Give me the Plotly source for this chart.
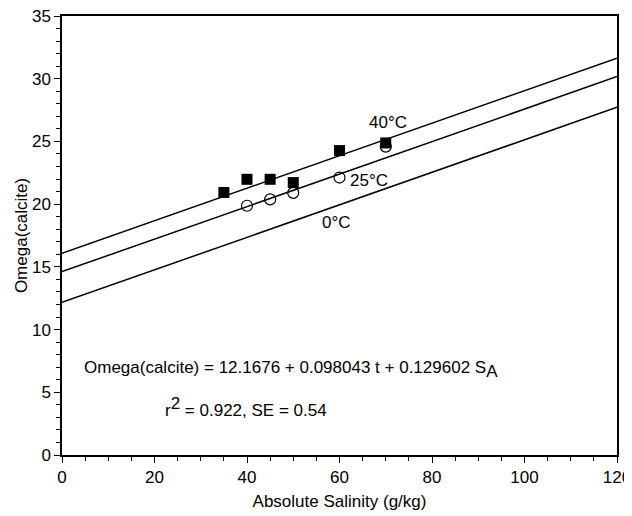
import plotly.graph_objects as go

# Data
sal_40 = [35, 40, 45, 50, 60, 70]
omega_40 = [20.93, 21.98, 21.98, 21.72, 24.27, 24.88]
sal_25 = [40, 45, 50, 60, 70]
omega_25 = [19.87, 20.38, 20.90, 22.12, 24.59]

line_x = [0, 120]
line_0C = [12.17, 27.72]
line_25C = [14.62, 30.17]
line_40C = [16.09, 31.64]

FONT = "Liberation Sans, Arial, Helvetica, sans-serif"
FS = 17

fig = go.Figure()
for ys in (line_0C, line_25C, line_40C):
    fig.add_trace(go.Scatter(x=line_x, y=ys, mode="lines",
                             line=dict(color="black", width=1.5),
                             showlegend=False, hoverinfo="skip"))

fig.add_trace(go.Scatter(x=sal_25, y=omega_25, mode="markers",
                         marker=dict(symbol="circle-open", size=11, color="black",
                                     line=dict(width=1.2, color="black")),
                         showlegend=False))
fig.add_trace(go.Scatter(x=sal_40, y=omega_40, mode="markers",
                         marker=dict(symbol="square", size=11, color="black"),
                         showlegend=False))

ann_font = dict(family=FONT, size=FS, color="black")
annotations = [
    dict(x=70.4, y=26.5, text="40°C"),
    dict(x=66.4, y=21.9, text="25°C"),
    dict(x=59.4, y=18.5, text="0°C"),
]
for a in annotations:
    a.update(xref="x", yref="y", showarrow=False, font=ann_font,
             xanchor="center", yanchor="middle")
annotations.append(dict(x=4.4, y=6.8, xref="x", yref="y", showarrow=False,
                        text="Omega(calcite) = 12.1676 + 0.098043 t + 0.129602 S<sub><span style='font-size:17px'>A</span></sub>",
                        font=ann_font, xanchor="left", yanchor="middle"))
annotations.append(dict(x=21.9, y=3.8, xref="x", yref="y", showarrow=False,
                        text="r<sup><span style='font-size:17px'>2</span></sup> = 0.922, SE = 0.54",
                        font=ann_font, xanchor="left", yanchor="middle"))

axis_common = dict(showline=True, linecolor="black", linewidth=1.5, mirror=True,
                   ticks="outside", tickcolor="black", ticklen=6, tickwidth=1.2,
                   showgrid=False, zeroline=False,
                   ticklabeloverflow="allow",
                   tickfont=dict(family=FONT, size=FS, color="black"),
                   title_font=dict(family=FONT, size=FS, color="black"))

fig.update_xaxes(range=[0, 120], tickmode="array", tickvals=[0, 20, 40, 60, 80, 100, 120],
                 minor=dict(ticks="outside", tickvals=list(range(0, 121, 5)), ticklen=4,
                            tickcolor="black", tickwidth=1),
                 automargin="bottom",
                 title_text="Absolute Salinity (g/kg)", title_standoff=9, **axis_common)
fig.update_yaxes(range=[0, 35], tickmode="array", tickvals=[0, 5, 10, 15, 20, 25, 30, 35],
                 minor=dict(ticks="outside", tickvals=list(range(0, 36, 1)), ticklen=4,
                            tickcolor="black", tickwidth=1),
                 automargin="left",
                 title_text="Omega(calcite)", title_standoff=0, **axis_common)

# page body adds an ~8px offset, so the figure is sized to fit the window
fig.update_layout(width=624, height=508, plot_bgcolor="white", paper_bgcolor="white",
                  margin=dict(l=54, r=15, t=8, b=59), annotations=annotations,
                  font=dict(family=FONT, size=FS, color="black"))

fig.write_html("out.html")
